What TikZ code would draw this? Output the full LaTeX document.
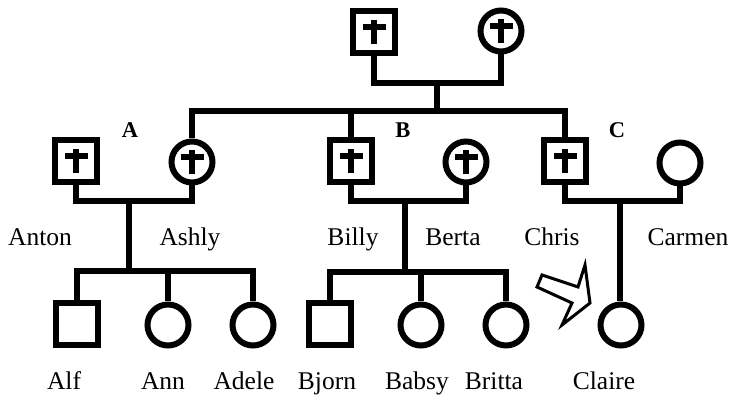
\documentclass[tikz,border=0pt]{standalone}
\usepackage{fontspec}
\setmainfont{Liberation Serif}
\begin{document}
\begin{tikzpicture}[x=1pt,y=-1pt,
  line width=6pt, line join=miter,
  male/.style={draw, rectangle, minimum size=42pt, inner sep=0pt, line width=6pt, fill=white},
  female/.style={draw, circle, minimum size=41pt, inner sep=0pt, line width=6pt, fill=white},
  crossed/.style={path picture={
    \fill[black] ([xshift=-3.3pt,yshift=12pt]path picture bounding box.center) rectangle ([xshift=3.3pt,yshift=-12.5pt]path picture bounding box.center);
    \fill[black] ([xshift=-11.5pt,yshift=7.5pt]path picture bounding box.center) rectangle ([xshift=11.5pt,yshift=1.5pt]path picture bounding box.center);}},
  personlabel/.style={anchor=base, inner sep=0pt, font=\fontsize{25.5}{30}\selectfont},
  tag/.style={anchor=base, inner sep=0pt, font=\bfseries\fontsize{22.5}{26}\selectfont},
  hollow/.style={draw, fill=white, line width=3pt, line join=miter}
]
\useasboundingbox (0,0) rectangle (732,395);

% generation I
\node[male,crossed] (g1) at (374,32) {};
\node[female,crossed] (g2) at (501,31) {};

% generation II
\node[male,crossed] (anton) at (76,161) {};
\node[female,crossed] (ashly) at (192,162) {};
\node[male,crossed] (billy) at (351,161) {};
\node[female,crossed] (berta) at (466,162) {};
\node[male,crossed] (chris) at (565,161) {};
\node[female] (carmen) at (680,163) {};

% generation III
\node[male] (alf) at (77,324) {};
\node[female] (ann) at (168,325) {};
\node[female] (adele) at (253,325) {};
\node[male] (bjorn) at (330,324) {};
\node[female] (babsy) at (421,325) {};
\node[female] (britta) at (506,325) {};
\node[female] (claire) at (621,325) {};

% junction points
\coordinate (tj) at (437,83);
\coordinate (mj) at (437,111);
\coordinate (aj) at (129,201);
\coordinate (ak) at (129,271);
\coordinate (bj) at (405,201);
\coordinate (bk) at (405,272);
\coordinate (cj) at (620,201);

% connectors
\draw (g1.south) |- (tj) -| (g2.south);
\draw (tj) -- (mj);
\draw (ashly.north) |- (mj) -| (chris.north);
\draw (billy.north) -- (billy.north |- mj);

\draw (anton.south) |- (aj) -| (ashly.south);
\draw (aj) -- (ak);
\draw (alf.north) |- (ak) -| (adele.north);
\draw (ann.north) -- (ann.north |- ak);

\draw (billy.south) |- (bj) -| (berta.south);
\draw (bj) -- (bk);
\draw (bjorn.north) |- (bk) -| (britta.north);
\draw (babsy.north) -- (babsy.north |- bk);

\draw (chris.south) |- (cj) -| (carmen.south);
\draw (cj) -- (claire.north -| cj);

% arrow
\draw[hollow] (542,275) -- (578,287) -- (585,265) -- (590,303) -- (562,325) -- (572,303) -- (537,287) -- cycle;

% labels
\node[tag] (lA) at (130,138) {A};
\node[tag] (lB) at (403,138) {B};
\node[tag] (lC) at (617,138) {C};

\node[personlabel] (tAnton) at (40,246) {Anton};
\node[personlabel] (tAshly) at (190,246) {Ashly};
\node[personlabel] (tBilly) at (353,246) {Billy};
\node[personlabel] (tBerta) at (453,246) {Berta};
\node[personlabel] (tChris) at (552,246) {Chris};
\node[personlabel] (tCarmen) at (688,246) {Carmen};

\node[personlabel] (tAlf) at (64,390) {Alf};
\node[personlabel] (tAnn) at (163,390) {Ann};
\node[personlabel] (tAdele) at (244,390) {Adele};
\node[personlabel] (tBjorn) at (327,390) {Bjorn};
\node[personlabel] (tBabsy) at (417,390) {Babsy};
\node[personlabel] (tBritta) at (494,390) {Britta};
\node[personlabel] (tClaire) at (604,390) {Claire};
\end{tikzpicture}
\end{document}
